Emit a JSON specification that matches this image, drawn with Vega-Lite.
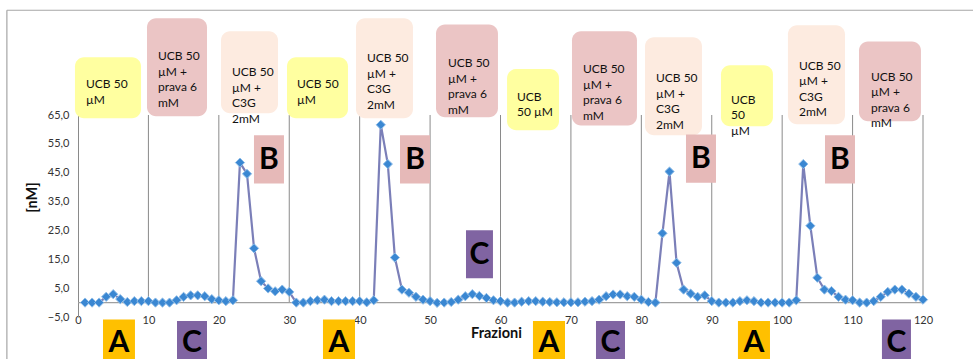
{
  "$schema": "https://vega.github.io/schema/vega-lite/v6.json",
  "width": 845,
  "height": 202,
  "autosize": "none",
  "padding": {"left": 78, "top": 115, "right": 50, "bottom": 42},
  "background": "white",
  "config": {
    "view": {"stroke": null},
    "font": "Lato",
    "axisX": {"domain": false, "ticks": false, "grid": false, "labelFont": "Lato", "labelFontSize": 11, "labelColor": "#333333", "labelBaseline": "middle", "labelPadding": 3, "labelFlush": false,
      "titleFont": "Lato", "titleFontSize": 14.5, "titleFontWeight": "bold", "titleColor": "#111111", "titleBaseline": "middle", "titleY": 16.5, "titleX": 418},
    "axisY": {"domainColor": "#8a8a8a", "ticks": false, "grid": false, "labelFont": "Lato", "labelFontSize": 11, "labelColor": "#333333", "labelPadding": 9,
      "titleFont": "Lato", "titleFontSize": 14.5, "titleFontWeight": "bold", "titleColor": "#111111", "titleAngle": 270, "titleAlign": "center", "titleBaseline": "middle", "titleX": -46, "titleY": 82}
  },
  "datasets": {
    "series": [
      {"f":1,"v":0},{"f":2,"v":0},{"f":3,"v":0},{"f":4,"v":2.0},{"f":5,"v":2.9},{"f":6,"v":1.2},{"f":7,"v":0.2},{"f":8,"v":0.5},{"f":9,"v":0.5},{"f":10,"v":0.5},
      {"f":11,"v":0},{"f":12,"v":0},{"f":13,"v":0},{"f":14,"v":0.8},{"f":15,"v":2.0},{"f":16,"v":2.5},{"f":17,"v":2.5},{"f":18,"v":2.2},{"f":19,"v":1.2},{"f":20,"v":0.8},
      {"f":21,"v":0.5},{"f":22,"v":0.8},{"f":23,"v":48.5},{"f":24,"v":44.6},{"f":25,"v":18.8},{"f":26,"v":7.4},{"f":27,"v":4.9},{"f":28,"v":3.9},{"f":29,"v":4.5},{"f":30,"v":3.7},
      {"f":31,"v":0},{"f":32,"v":0},{"f":33,"v":0.5},{"f":34,"v":0.8},{"f":35,"v":1.0},{"f":36,"v":0.5},{"f":37,"v":0.5},{"f":38,"v":0.5},{"f":39,"v":0.5},{"f":40,"v":0.5},
      {"f":41,"v":0.1},{"f":42,"v":0.8},{"f":43,"v":61.6},{"f":44,"v":48.0},{"f":45,"v":15.6},{"f":46,"v":4.5},{"f":47,"v":3.4},{"f":48,"v":2.0},{"f":49,"v":1.0},{"f":50,"v":0.5},
      {"f":51,"v":-0.1},{"f":52,"v":0},{"f":53,"v":0.2},{"f":54,"v":1.0},{"f":55,"v":2.2},{"f":56,"v":2.9},{"f":57,"v":2.3},{"f":58,"v":1.6},{"f":59,"v":0.8},{"f":60,"v":0.5},
      {"f":61,"v":0},{"f":62,"v":0},{"f":63,"v":0.3},{"f":64,"v":0.5},{"f":65,"v":0.5},{"f":66,"v":0.3},{"f":67,"v":0.2},{"f":68,"v":0.1},{"f":69,"v":0.1},{"f":70,"v":0.1},
      {"f":71,"v":0.1},{"f":72,"v":0.3},{"f":73,"v":0.5},{"f":74,"v":1.0},{"f":75,"v":2.2},{"f":76,"v":2.8},{"f":77,"v":2.8},{"f":78,"v":2.2},{"f":79,"v":2.0},{"f":80,"v":1.0},
      {"f":81,"v":0.2},{"f":82,"v":0},{"f":83,"v":24.0},{"f":84,"v":45.4},{"f":85,"v":13.8},{"f":86,"v":4.5},{"f":87,"v":3.1},{"f":88,"v":2.0},{"f":89,"v":2.5},{"f":90,"v":0.5},
      {"f":91,"v":0},{"f":92,"v":0},{"f":93,"v":0},{"f":94,"v":0.5},{"f":95,"v":0.8},{"f":96,"v":0.5},{"f":97,"v":0},{"f":98,"v":0},{"f":99,"v":0},{"f":100,"v":0},
      {"f":101,"v":0},{"f":102,"v":0.8},{"f":103,"v":48.0},{"f":104,"v":26.6},{"f":105,"v":8.6},{"f":106,"v":4.5},{"f":107,"v":4.0},{"f":108,"v":2.0},{"f":109,"v":1.0},{"f":110,"v":0.8},
      {"f":111,"v":0},{"f":112,"v":0},{"f":113,"v":0.5},{"f":114,"v":2.0},{"f":115,"v":3.7},{"f":116,"v":4.5},{"f":117,"v":4.5},{"f":118,"v":3.1},{"f":119,"v":2.0},{"f":120,"v":1.0}
    ],
    "grid": [{"g":10},{"g":20},{"g":30},{"g":40},{"g":50},{"g":60},{"g":70},{"g":80},{"g":90},{"g":100},{"g":110},{"g":120}],
    "frame": [
      {"x1":-10.1,"x2":127.5,"y1":101.3,"y2":101.3},
      {"x1":-10.1,"x2":-10.1,"y1":101.3,"y2":-22}
    ],
    "boxes": [
      {"x1":-0.43,"x2":8.95,"y1":63.9,"y2":85.0,"tx":1.14,"ty":75.6,"kind":"UCB","label":"UCB 50\nµM"},
      {"x1":9.80,"x2":18.32,"y1":64.6,"y2":98.5,"tx":11.36,"ty":85.3,"kind":"prava","label":"UCB 50\nµM +\nprava 6\nmM"},
      {"x1":20.31,"x2":28.40,"y1":65.6,"y2":94.0,"tx":21.87,"ty":79.9,"kind":"C3G","label":"UCB 50\nµM +\nC3G\n2mM"},
      {"x1":29.68,"x2":38.34,"y1":63.9,"y2":85.0,"tx":31.10,"ty":75.6,"kind":"UCB","label":"UCB 50\nµM"},
      {"x1":39.48,"x2":47.57,"y1":63.9,"y2":98.5,"tx":41.04,"ty":84.6,"kind":"C3G","label":"UCB 50\nµM +\nC3G\n2mM"},
      {"x1":50.84,"x2":59.64,"y1":64.2,"y2":96.4,"tx":52.54,"ty":82.9,"kind":"prava","label":"UCB 50\nµM +\nprava 6\nmM"},
      {"x1":60.93,"x2":68.31,"y1":59.7,"y2":80.9,"tx":62.34,"ty":71.3,"kind":"UCB","label":"UCB\n50 µM"},
      {"x1":70.15,"x2":79.38,"y1":61.4,"y2":94.0,"tx":71.71,"ty":80.8,"kind":"prava","label":"UCB 50\nµM +\nprava 6\nmM"},
      {"x1":80.52,"x2":88.61,"y1":58.0,"y2":91.9,"tx":82.08,"ty":77.7,"kind":"C3G","label":"UCB 50\nµM +\nC3G\n2mM"},
      {"x1":91.31,"x2":98.69,"y1":61.1,"y2":82.2,"tx":92.73,"ty":70.2,"kind":"UCB","label":"UCB\n50\nµM"},
      {"x1":100.82,"x2":108.92,"y1":61.8,"y2":96.1,"tx":102.39,"ty":82.1,"kind":"C3G","label":"UCB 50\nµM +\nC3G\n2mM"},
      {"x1":110.91,"x2":119.71,"y1":62.8,"y2":90.5,"tx":112.61,"ty":78.2,"kind":"prava","label":"UCB 50\nµM +\nprava 6\nmM"}
    ],
    "letters": [
      {"x1":24.99,"x2":29.25,"y1":41.3,"y2":58.0,"cx":27.12,"cy":49.5,"letter":"B"},
      {"x1":45.73,"x2":49.99,"y1":41.3,"y2":58.0,"cx":47.86,"cy":49.5,"letter":"B"},
      {"x1":86.34,"x2":90.60,"y1":41.5,"y2":58.2,"cx":88.47,"cy":49.7,"letter":"B"},
      {"x1":106.08,"x2":110.34,"y1":41.3,"y2":58.0,"cx":108.21,"cy":49.5,"letter":"B"},
      {"x1":55.10,"x2":58.93,"y1":8.4,"y2":25.1,"cx":57.02,"cy":16.5,"letter":"C"},
      {"x1":3.55,"x2":8.09,"y1":-22,"y2":-5.9,"cx":5.82,"cy":-14.1,"letter":"A"},
      {"x1":34.79,"x2":39.34,"y1":-22,"y2":-5.9,"cx":37.07,"cy":-14.1,"letter":"A"},
      {"x1":64.61,"x2":69.16,"y1":-22,"y2":-6.4,"cx":66.89,"cy":-14.1,"letter":"A"},
      {"x1":93.72,"x2":98.27,"y1":-22,"y2":-6.4,"cx":96.0,"cy":-14.1,"letter":"A"},
      {"x1":14.06,"x2":18.32,"y1":-22,"y2":-6.4,"cx":16.19,"cy":-14.1,"letter":"C"},
      {"x1":73.56,"x2":77.68,"y1":-22,"y2":-6.4,"cx":75.62,"cy":-14.1,"letter":"C"},
      {"x1":114.17,"x2":118.29,"y1":-22,"y2":-5.9,"cx":116.23,"cy":-14.1,"letter":"C"}
    ]
  },
  "layer": [
    {
      "data": {"name": "grid"},
      "mark": {"type": "rule", "color": "#8a8a8a", "strokeWidth": 1, "clip": false},
      "encoding": {
        "x": {"field": "g", "type": "quantitative", "scale": {"domain": [0, 120], "nice": false, "zero": false},
          "axis": {"title": "Frazioni", "values": [0,10,20,30,40,50,60,70,80,90,100,110,120]}},
        "y": {"datum": 0, "type": "quantitative", "scale": {"domain": [-5, 65], "nice": false, "zero": false},
          "axis": {"title": "[nM]", "values": [-5,5,15,25,35,45,55,65], "labelExpr": "replace(format(datum.value, '.1f'), '.', ',')"}},
        "y2": {"datum": 65}
      }
    },
    {
      "data": {"values": [{"a": 0, "b": 120}]},
      "mark": {"type": "rule", "color": "#a0a0a0", "strokeWidth": 1.2, "clip": false},
      "encoding": {
        "x": {"field": "a", "type": "quantitative", "scale": {"domain": [0, 120], "nice": false, "zero": false},
          "axis": {"title": "Frazioni", "values": [0,10,20,30,40,50,60,70,80,90,100,110,120]}},
        "x2": {"field": "b"},
        "y": {"datum": 0, "type": "quantitative", "scale": {"domain": [-5, 65], "nice": false, "zero": false},
          "axis": {"title": "[nM]", "values": [-5,5,15,25,35,45,55,65], "labelExpr": "replace(format(datum.value, '.1f'), '.', ',')"}}
      }
    },
    {
      "data": {"name": "frame"},
      "mark": {"type": "rule", "color": "#a6a6a6", "strokeWidth": 1.2, "clip": false},
      "encoding": {
        "x": {"field": "x1", "type": "quantitative", "scale": {"domain": [0, 120], "nice": false, "zero": false},
          "axis": {"title": "Frazioni", "values": [0,10,20,30,40,50,60,70,80,90,100,110,120]}},
        "x2": {"field": "x2"},
        "y": {"field": "y1", "type": "quantitative", "scale": {"domain": [-5, 65], "nice": false, "zero": false},
          "axis": {"title": "[nM]", "values": [-5,5,15,25,35,45,55,65], "labelExpr": "replace(format(datum.value, '.1f'), '.', ',')"}},
        "y2": {"field": "y2"}
      }
    },
    {
      "data": {"name": "boxes"},
      "mark": {"type": "rect", "cornerRadius": 9, "clip": false},
      "encoding": {
        "x": {"field": "x1", "type": "quantitative", "scale": {"domain": [0, 120], "nice": false, "zero": false},
          "axis": {"title": "Frazioni", "values": [0,10,20,30,40,50,60,70,80,90,100,110,120]}},
        "x2": {"field": "x2"},
        "y": {"field": "y1", "type": "quantitative", "scale": {"domain": [-5, 65], "nice": false, "zero": false},
          "axis": {"title": "[nM]", "values": [-5,5,15,25,35,45,55,65], "labelExpr": "replace(format(datum.value, '.1f'), '.', ',')"}},
        "y2": {"field": "y2"},
        "color": {"field": "kind", "type": "nominal", "scale": {"domain": ["UCB", "prava", "C3G"], "range": ["#ffffa0", "#ebc5c5", "#fdebe0"]}, "legend": null}
      }
    },
    {
      "data": {"name": "boxes"},
      "mark": {"type": "text", "align": "left", "baseline": "middle", "lineBreak": "\n", "lineHeight": 15.5, "font": "Lato", "fontSize": 12, "color": "#111111", "clip": false},
      "encoding": {
        "x": {"field": "tx", "type": "quantitative", "scale": {"domain": [0, 120], "nice": false, "zero": false},
          "axis": {"title": "Frazioni", "values": [0,10,20,30,40,50,60,70,80,90,100,110,120]}},
        "y": {"field": "ty", "type": "quantitative", "scale": {"domain": [-5, 65], "nice": false, "zero": false},
          "axis": {"title": "[nM]", "values": [-5,5,15,25,35,45,55,65], "labelExpr": "replace(format(datum.value, '.1f'), '.', ',')"}},
        "text": {"field": "label", "type": "nominal"}
      }
    },
    {
      "data": {"name": "letters"},
      "mark": {"type": "rect", "clip": false},
      "encoding": {
        "x": {"field": "x1", "type": "quantitative", "scale": {"domain": [0, 120], "nice": false, "zero": false},
          "axis": {"title": "Frazioni", "values": [0,10,20,30,40,50,60,70,80,90,100,110,120]}},
        "x2": {"field": "x2"},
        "y": {"field": "y1", "type": "quantitative", "scale": {"domain": [-5, 65], "nice": false, "zero": false},
          "axis": {"title": "[nM]", "values": [-5,5,15,25,35,45,55,65], "labelExpr": "replace(format(datum.value, '.1f'), '.', ',')"}},
        "y2": {"field": "y2"},
        "fill": {"field": "letter", "type": "nominal", "scale": {"domain": ["A", "B", "C"], "range": ["#ffc000", "#e6b9b8", "#8064a2"]}, "legend": null}
      }
    },
    {
      "data": {"name": "letters"},
      "mark": {"type": "text", "align": "center", "baseline": "middle", "font": "Lato", "fontWeight": "bold", "fontSize": 30, "color": "#000000", "clip": false},
      "encoding": {
        "x": {"field": "cx", "type": "quantitative", "scale": {"domain": [0, 120], "nice": false, "zero": false},
          "axis": {"title": "Frazioni", "values": [0,10,20,30,40,50,60,70,80,90,100,110,120]}},
        "y": {"field": "cy", "type": "quantitative", "scale": {"domain": [-5, 65], "nice": false, "zero": false},
          "axis": {"title": "[nM]", "values": [-5,5,15,25,35,45,55,65], "labelExpr": "replace(format(datum.value, '.1f'), '.', ',')"}},
        "text": {"field": "letter", "type": "nominal"}
      }
    },
    {
      "data": {"name": "series"},
      "mark": {"type": "line", "color": "#7b7fb8", "strokeWidth": 2.2, "clip": false},
      "encoding": {
        "x": {"field": "f", "type": "quantitative", "scale": {"domain": [0, 120], "nice": false, "zero": false},
          "axis": {"title": "Frazioni", "values": [0,10,20,30,40,50,60,70,80,90,100,110,120]}},
        "y": {"field": "v", "type": "quantitative", "scale": {"domain": [-5, 65], "nice": false, "zero": false},
          "axis": {"title": "[nM]", "values": [-5,5,15,25,35,45,55,65], "labelExpr": "replace(format(datum.value, '.1f'), '.', ',')"}}
      }
    },
    {
      "data": {"name": "series"},
      "mark": {"type": "point", "shape": "diamond", "filled": true, "size": 85, "fill": "#3a87d2", "stroke": "#8fbde8", "strokeWidth": 1, "opacity": 1, "clip": false},
      "encoding": {
        "x": {"field": "f", "type": "quantitative", "scale": {"domain": [0, 120], "nice": false, "zero": false},
          "axis": {"title": "Frazioni", "values": [0,10,20,30,40,50,60,70,80,90,100,110,120]}},
        "y": {"field": "v", "type": "quantitative", "scale": {"domain": [-5, 65], "nice": false, "zero": false},
          "axis": {"title": "[nM]", "values": [-5,5,15,25,35,45,55,65], "labelExpr": "replace(format(datum.value, '.1f'), '.', ',')"}}
      }
    }
  ]
}
